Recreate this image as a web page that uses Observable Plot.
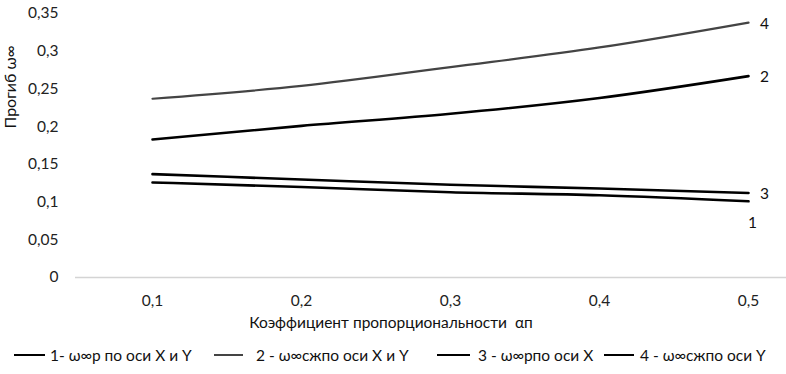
<!DOCTYPE html>
<html><head><meta charset="utf-8">
<script src="https://cdn.jsdelivr.net/npm/d3@7"></script>
<script src="https://cdn.jsdelivr.net/npm/@observablehq/plot@0.6"></script>
<style>
body{margin:0;background:#fff;font-family:Lato,"Open Sans",sans-serif;}
#legend{position:relative;height:34px;font-size:15.5px;color:#111;white-space:nowrap;}
.item{position:absolute;top:6px;display:flex;align-items:center;}
.sw{display:inline-block;height:0;margin-right:6px;}
</style></head>
<body>
<div id="chart"></div>
<div id="legend"></div>
<script>
const categories = ["0,1","0,2","0,3","0,4","0,5"];
const s1 = [0.126, 0.120, 0.113, 0.109, 0.101];
const s2 = [0.183, 0.201, 0.217, 0.238, 0.267];
const s3 = [0.137, 0.130, 0.123, 0.118, 0.112];
const s4 = [0.237, 0.254, 0.279, 0.305, 0.338];
const seriesNames = ["1","2","3","4"];
const legendLabels = ["1- ω∞р по оси X и Y","2 - ω∞сжпо оси X и Y","3 - ω∞рпо оси X","4 - ω∞сжпо оси Y"];
const lineColors = {"1":"#000","2":"#000","3":"#000","4":"#444"};
const lineWidths = {"1":2.6,"2":2.6,"3":2.6,"4":2.2};
const legendColors = ["#000","#444","#000","#000"];
const legendWidths = [2.6,2.2,2.6,2.6];
const yTicks = [0,0.05,0.1,0.15,0.2,0.25,0.3,0.35];

const allSeries = [s1,s2,s3,s4];
const data = [];
allSeries.forEach((s,i)=>s.forEach((v,j)=>data.push({series:seriesNames[i],x:categories[j],y:v})));
const ends = data.filter(d=>d.x===categories[categories.length-1]);
const fmt = d => String(+d.toFixed(2)).replace(".", ",");

const chart = Plot.plot({
  width:786, height:340,
  marginLeft:75, marginRight:0, marginTop:13, marginBottom:63,
  style:{fontFamily:"Lato, 'Open Sans', sans-serif", fontSize:"15px", color:"#222", background:"#fff"},
  x:{type:"point", domain:categories, range:[151,749], padding:0},
  y:{domain:[0,0.35]},
  marks:[
    Plot.ruleY([0],{stroke:"#d4d4d4", strokeWidth:1.3}),
    Plot.axisY({ticks:yTicks, tickFormat:fmt, tickSize:0, tickPadding:17, fontSize:15.5, label:null}),
    Plot.text(["Прогиб ω∞"],{frameAnchor:"left", rotate:-90, dx:-65, dy:-17, fontSize:16, fill:"#111"}),
    Plot.axisX({tickSize:0, tickPadding:17, fontSize:15.5, label:null}),
    Plot.text(["Коэффициент пропорциональности  αп"],{frameAnchor:"bottom", dy:50, dx:-40, fontSize:15.5, fill:"#111"}),
    ...seriesNames.map(n => Plot.line(data.filter(d=>d.series===n),{x:"x", y:"y", stroke:lineColors[n], strokeWidth:lineWidths[n], curve:"monotone-x"})),
    Plot.text(ends.filter(d=>d.series!=="1"),{x:"x", y:"y", text:"series", dx:16, dy:1, fontSize:15.5, fill:"#111"}),
    Plot.text(ends.filter(d=>d.series==="1"),{x:"x", y:"y", text:"series", dx:4, dy:22, fontSize:15.5, fill:"#111"})
  ]
});
document.getElementById("chart").append(chart);

const lg = document.getElementById("legend");
const lefts = [14, 214, 437, 604];
const swW = [31, 29, 33, 30];
const swGap = [5, 13, 8, 6];
legendLabels.forEach((t,i)=>{
  const it = document.createElement("span"); it.className="item";
  it.style.left = lefts[i]+"px";
  const sw = document.createElement("span"); sw.className="sw";
  sw.style.width=swW[i]+"px"; sw.style.marginRight=swGap[i]+"px";
  sw.style.borderTop = legendWidths[i]+"px solid "+legendColors[i];
  it.append(sw, document.createTextNode(t));
  lg.append(it);
});
</script>
</body></html>
